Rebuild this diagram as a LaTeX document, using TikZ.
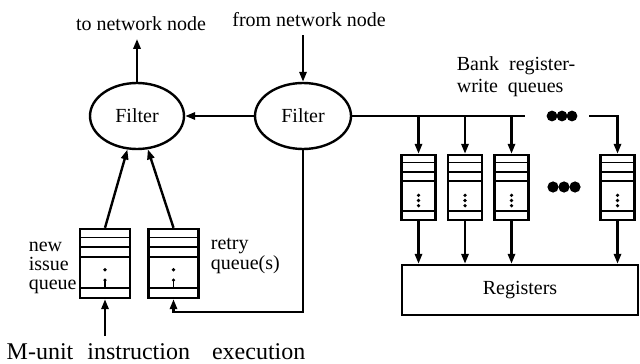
\documentclass[tikz,border=0pt]{standalone}
\usepackage{fontspec}
\setmainfont{Liberation Serif}
\usetikzlibrary{calc,shapes.geometric,arrows.meta}

\tikzset{
  arr/.style={-{Triangle[length=5pt,width=3.6pt]}},
  filt/.style={draw, ellipse, inner sep=0pt},
  queue/.style={draw, inner sep=0pt, path picture={
      \foreach \f/\w in {0.12/0.6pt,0.26/0.6pt,0.40/1.1pt,0.86/1.1pt}
        \draw[line width=\w]
          ($(path picture bounding box.north west)!\f!(path picture bounding box.south west)$) --
          ($(path picture bounding box.north east)!\f!(path picture bounding box.south east)$);
      \foreach \f in {#1}
        \fill ($(path picture bounding box.north)!\f!(path picture bounding box.south)$) circle (0.9pt);
    }},
  bq/.style={queue={0.62,0.70,0.78}, minimum width=17pt, minimum height=32.5pt},
  iq/.style={queue={0.59,0.74}, minimum width=25pt, minimum height=34.5pt},
}

\begin{document}
\begin{tikzpicture}[x=0.5pt, y=-0.5pt, line width=1.2pt]
  \useasboundingbox (0,0) rectangle (640,363);

  % network side
  \node (tonet) at (141,24) {to network node};
  \node (fromnet) at (309,20) {from network node};
  \node[filt, minimum width=47pt, minimum height=33pt] (fl) at (137,116) {Filter};
  \node[filt, minimum width=48pt, minimum height=33pt] (fr) at (303,116) {Filter};

  \draw[arr] (fl.north) -- (fl.north |- tonet.south);
  \draw[arr] (fr.north |- fromnet.south) -- (fr.north);
  \draw[arr] (fr.west) -- (fl.east);

  % bank register-write queues
  \node[anchor=north west, align=left, font=\fontsize{10}{11}\selectfont] (banklbl) at (449,49)
    {Bank\ \ register-\\write\ \ queues};
  \foreach \x [count=\i] in {418.5,465,511.5,617.5}
    \node[bq] (q\i) at (\x,187.5) {};
  \node[draw, minimum width=118pt, minimum height=25pt] (regs) at (520,290) {Registers};

  \coordinate (busend) at (525,116);
  \coordinate (busresume) at (589,116);
  \draw (fr.east) -- (busend);
  \foreach \q in {q1,q2,q3}
    \draw[arr] (fr.east -| \q) -- (\q.north);
  \draw[arr] (busresume) -| (q4.north);
  \foreach \x in {552,562,572}
    \fill (\x,116) circle (2.7pt);
  \foreach \x in {553,564,575}
    \fill (\x,187) circle (2.8pt);
  \foreach \q in {q1,q2,q3,q4}
    \draw[arr] (\q.south) -- (\q.south |- regs.north);

  % issue side
  \node[iq] (qn) at (105,263.5) {};
  \node[iq] (qr) at (173.5,263.5) {};
  \draw[line width=0.8pt] ($(qn.north)!0.74!(qn.south)$) -- ($(qn.north)!0.84!(qn.south)$);
  \draw[line width=0.8pt] ($(qr.north)!0.74!(qr.south)$) -- ($(qr.north)!0.84!(qr.south)$);
  \node[anchor=east, align=left, inner sep=0.5pt, font=\fontsize{10}{9.5}\selectfont] (newlbl) at ([yshift=-2pt]qn.west)
    {new\\issue\\queue};
  \node[anchor=west, align=left, font=\fontsize{10}{10}\selectfont] (retrylbl) at (203,256)
    {retry\\queue(s)};
  \node[font=\fontsize{12}{14}\selectfont] (munit) at (156,352) {M-unit\hspace{7pt}instruction\hspace{11pt}execution};

  \draw[arr] (qn.north) -- (fl.254);
  \draw[arr] (qr.north) -- (fl.288);
  \coordinate (fbturn) at (173.5,312);
  \draw[arr] (fr.south) |- (fbturn) -- (qr.south);
  \draw[arr] (qn.south |- munit.north) -- (qn.south);
\end{tikzpicture}
\end{document}
